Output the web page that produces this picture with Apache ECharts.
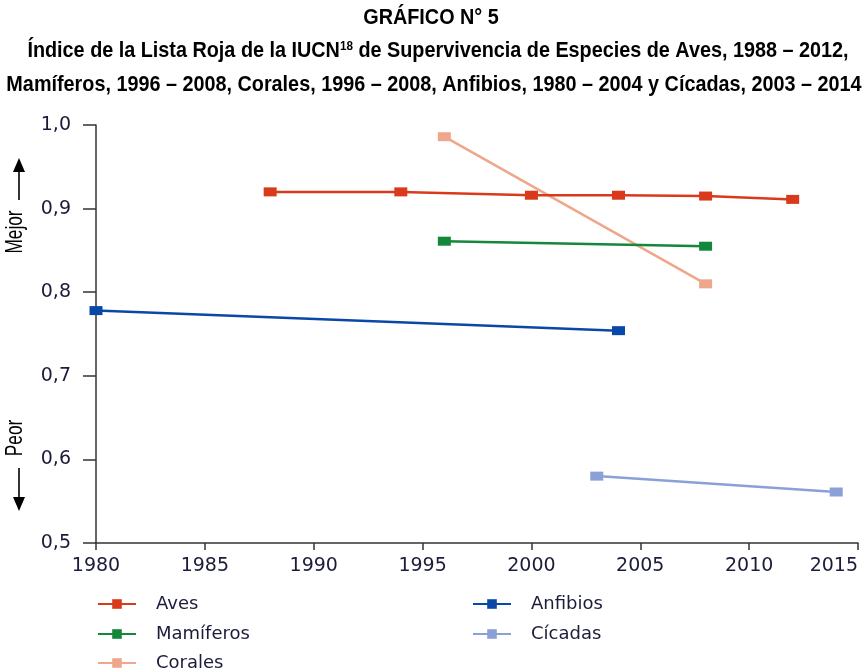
<!DOCTYPE html>
<html><head><meta charset="utf-8">
<script src="https://cdn.jsdelivr.net/npm/echarts@6/dist/echarts.min.js"></script>
<style>html,body{margin:0;padding:0;background:#fff}#c{width:863px;height:670px}</style>
</head><body><div id="c"></div>
<script>
const aves = [[1988,0.920],[1994,0.920],[2000,0.916],[2004,0.916],[2008,0.915],[2012,0.911]];
const mamiferos = [[1996,0.861],[2008,0.855]];
const corales = [[1996,0.986],[2008,0.810]];
const anfibios = [[1980,0.778],[2004,0.754]];
const cicadas = [[2003,0.580],[2014,0.561]];
const seriesNames = ['Aves','Mamíferos','Corales','Anfibios','Cícadas'];
const seriesData = [aves, mamiferos, corales, anfibios, cicadas];
const colors = ['#d93a1c','#14873a','#efa78b','#0a48a8','#8aa0d6'];
const titleLines = [
  'GRÁFICO N° 5',
  'Índice de la Lista Roja de la IUCN{sup|18} de Supervivencia de Especies de Aves, 1988 – 2012,',
  'Mamíferos, 1996 – 2008, Corales, 1996 – 2008, Anfibios, 1980 – 2004 y Cícadas, 2003 – 2014'
];

const chart = echarts.init(document.getElementById('c'));
const titleFont = '"Liberation Sans",Arial,sans-serif';
const axisFont = '"DejaVu Sans",sans-serif';
const legendPos = [[97,603],[97,633],[97,662],[472,603],[472,633]];
const titleX = [431,438,434];
const titleY = [18,51,85];
chart.setOption({
  animation:false,
  grid:{left:96,right:5,top:125,bottom:127,containLabel:false,outerBoundsMode:'none'},
  xAxis:{type:'value',min:1980,max:2015,interval:5,
    axisLine:{lineStyle:{color:'#333',width:1.5}},
    axisTick:{show:true,inside:false,length:7,lineStyle:{color:'#333',width:1.5}},
    splitLine:{show:false},
    axisLabel:{fontFamily:axisFont,fontSize:19,color:'#1b1b3a',margin:14,alignMaxLabel:'right',hideOverlap:false,formatter:v=>String(v)}},
  yAxis:{type:'value',min:0.5,max:1.0,interval:0.1,
    axisLine:{show:true,lineStyle:{color:'#333',width:1.5}},
    axisTick:{show:true,length:13,lineStyle:{color:'#333',width:1.5}},
    splitLine:{show:false},
    axisLabel:{fontFamily:axisFont,fontSize:19,color:'#1b1b3a',margin:25,formatter:v=>v.toFixed(1).replace('.',',')}},
  legend: seriesNames.map((n,i)=>({
    data:[n],orient:'horizontal',left:legendPos[i][0],top:legendPos[i][1]-8,padding:0,itemWidth:38,itemHeight:12,itemGap:0,
    textStyle:{fontFamily:axisFont,fontSize:18,color:'#1b1b3a',padding:[0,0,0,15]}
  })),
  series: seriesNames.map((n,i)=>({
    name:n,type:'line',data:seriesData[i],color:colors[i],
    symbol:'rect',symbolSize:[13,9],showSymbol:true,
    lineStyle:{width:2.5,color:colors[i]},itemStyle:{color:colors[i]},z:10-i
  })),
  graphic:[
    ...titleLines.map((t,i)=>({type:'text',x:titleX[i],y:titleY[i],scaleX:0.9,
      style:{text:t,fontFamily:titleFont,fontSize:22,fontWeight:'bold',fill:'#000',align:'center',verticalAlign:'middle',
        rich:{sup:{fontFamily:titleFont,fontSize:13,fontWeight:'bold',fill:'#000',padding:[0,0,10,0]}}}})),
    {type:'text',x:15,y:232,rotation:Math.PI/2,scaleX:0.72,style:{text:'Mejor',fontFamily:titleFont,fontSize:24,fill:'#000',align:'center',verticalAlign:'middle'}},
    {type:'line',shape:{x1:19,y1:200,x2:19,y2:168},style:{stroke:'#000',lineWidth:1.6}},
    {type:'polygon',shape:{points:[[13,172],[25,172],[19,158]]},style:{fill:'#000'}},
    {type:'text',x:15,y:438,rotation:Math.PI/2,scaleX:0.72,style:{text:'Peor',fontFamily:titleFont,fontSize:24,fill:'#000',align:'center',verticalAlign:'middle'}},
    {type:'line',shape:{x1:19,y1:468,x2:19,y2:500},style:{stroke:'#000',lineWidth:1.6}},
    {type:'polygon',shape:{points:[[13,497],[25,497],[19,511]]},style:{fill:'#000'}}
  ]
});
</script></body></html>
